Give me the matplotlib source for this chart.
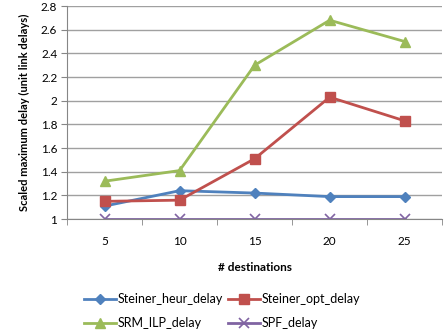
import matplotlib.pyplot as plt
import numpy as np

plt.rcParams['font.family'] = ['Lato', 'DejaVu Sans']

destinations = [5, 10, 15, 20, 25]
steiner_heur = [1.11, 1.24, 1.22, 1.19, 1.19]
steiner_opt = [1.15, 1.16, 1.51, 2.03, 1.83]
srm_ilp = [1.32, 1.41, 2.30, 2.68, 2.50]
spf = [1.0, 1.0, 1.0, 1.0, 1.0]

fig = plt.figure(figsize=(4.44, 3.34), dpi=100)
ax = fig.add_axes([0.151, 0.344, 0.845, 0.638])

x = np.arange(len(destinations))
h1, = ax.plot(x, steiner_heur, color='#4F81BD', marker='D', ms=5, lw=2, label='Steiner_heur_delay')
h2, = ax.plot(x, steiner_opt, color='#C0504D', marker='s', ms=7, lw=2, label='Steiner_opt_delay')
h3, = ax.plot(x, srm_ilp, color='#9BBB59', marker='^', ms=7, lw=2, label='SRM_ILP_delay')
h4, = ax.plot(x, spf, color='#8064A2', marker='x', ms=7, mew=1.2, lw=2, label='SPF_delay')

ax.set_xlim(-0.5, len(destinations) - 0.5)
ax.set_ylim(1, 2.8)
ax.set_yticks(np.arange(1, 2.81, 0.2))
ax.set_yticklabels(['1', '1.2', '1.4', '1.6', '1.8', '2', '2.2', '2.4', '2.6', '2.8'])
ax.set_xticks(x)
ax.set_xticklabels([str(d) for d in destinations])
ax.set_xticks(np.arange(-0.5, len(destinations)), minor=True)
ax.tick_params(axis='x', which='major', length=0, pad=12, labelsize=8.5)
ax.tick_params(axis='x', which='minor', length=4, color='#868686', direction='out')
ax.tick_params(axis='y', length=4, color='#868686', labelsize=8.5, pad=3)
ax.grid(axis='y', color='#A0A0A0', lw=1)
ax.set_axisbelow(True)
for s in ['top', 'right']:
    ax.spines[s].set_visible(False)
for s in ['left', 'bottom']:
    ax.spines[s].set_color('#868686')

ax.set_xlabel('# destinations', fontsize=8.5, fontweight='bold', labelpad=11)
ax.set_ylabel('Scaled maximum delay (unit link delays)', fontsize=8, fontweight='bold', labelpad=8)

# row-major order like the original: heur, opt / srm, spf
fig.legend([h1, h3, h2, h4], [h.get_label() for h in [h1, h3, h2, h4]],
           loc='lower center', bbox_to_anchor=(0.5, -0.02), ncol=2, frameon=False,
           fontsize=9, handlelength=2.6, columnspacing=0.4, handletextpad=0.1, labelspacing=1.0)

fig.savefig('out.png', dpi=100)
